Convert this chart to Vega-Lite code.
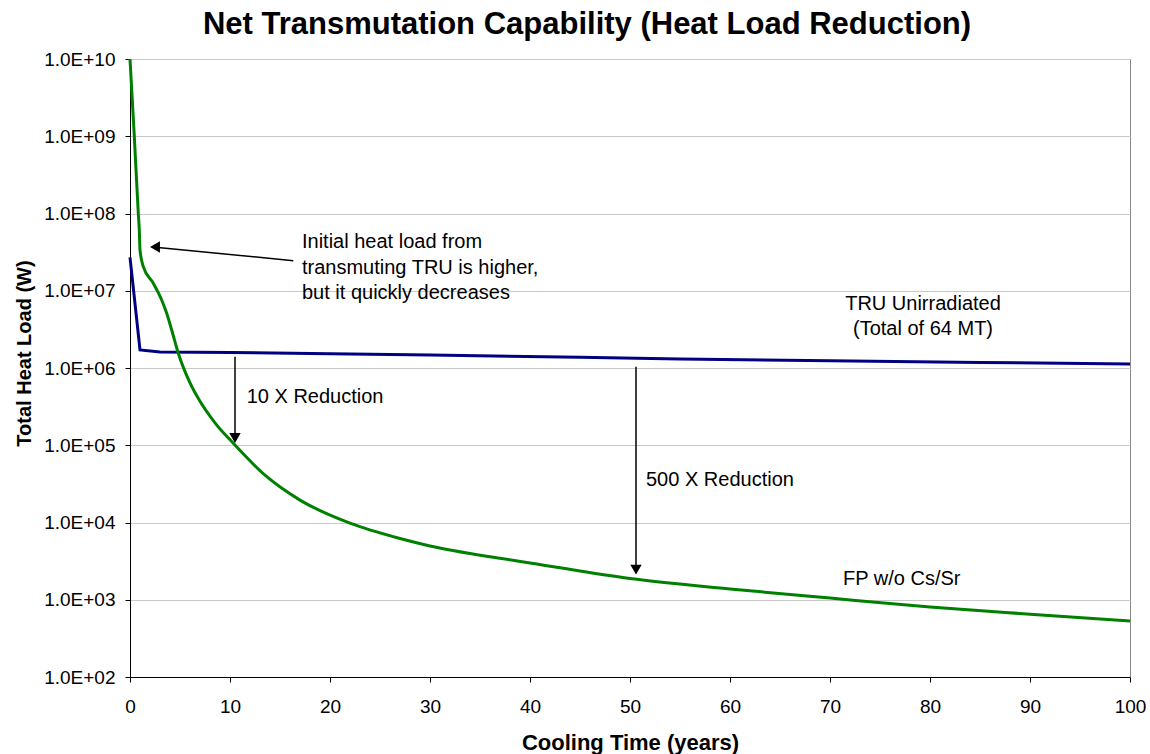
{
  "$schema": "https://vega.github.io/schema/vega-lite/v6.json",
  "width": 1000,
  "height": 618,
  "autosize": {"type": "none"},
  "padding": {"left": 130, "top": 59, "right": 20, "bottom": 77},
  "background": "white",
  "config": {
    "font": "Liberation Sans",
    "view": {"stroke": "#888888", "strokeWidth": 1},
    "axis": {"labelFont": "Liberation Sans", "titleFont": "Liberation Sans", "labelColor": "black", "titleColor": "black", "domainColor": "black", "tickColor": "black"}
  },
  "title": {
    "text": "Net Transmutation Capability (Heat Load Reduction)",
    "font": "Liberation Sans",
    "fontSize": 31,
    "fontWeight": "bold",
    "color": "black",
    "anchor": "middle",
    "frame": "group",
    "baseline": "alphabetic",
    "offset": 24,
    "dy": 39,
    "dx": -43
  },
  "datasets": {
    "tru": [
      {"t": 0, "value": 27000000},
      {"t": 1, "value": 1710000},
      {"t": 3, "value": 1610000},
      {"t": 10, "value": 1590000},
      {"t": 20, "value": 1530000},
      {"t": 30, "value": 1470000},
      {"t": 45, "value": 1380000},
      {"t": 55, "value": 1310000},
      {"t": 70, "value": 1240000},
      {"t": 85, "value": 1180000},
      {"t": 100, "value": 1130000}
    ],
    "fp": [
      {"t": 0, "value": 10000000000},
      {"t": 0.43, "value": 1000000000},
      {"t": 0.83, "value": 100000000},
      {"t": 0.93, "value": 61000000},
      {"t": 1.0, "value": 33700000},
      {"t": 1.33, "value": 20500000},
      {"t": 2.33, "value": 12500000},
      {"t": 3.17, "value": 7600000},
      {"t": 3.67, "value": 5100000},
      {"t": 4.17, "value": 3100000},
      {"t": 4.83, "value": 1550000},
      {"t": 6, "value": 640000},
      {"t": 7, "value": 370000},
      {"t": 8.5, "value": 195000},
      {"t": 10.33, "value": 106000},
      {"t": 13.5, "value": 41000},
      {"t": 17, "value": 19500},
      {"t": 22, "value": 9800},
      {"t": 27, "value": 6200},
      {"t": 30, "value": 4970},
      {"t": 37, "value": 3440},
      {"t": 40, "value": 3000},
      {"t": 50, "value": 1880},
      {"t": 60, "value": 1380},
      {"t": 70, "value": 1050},
      {"t": 80, "value": 805},
      {"t": 90, "value": 650},
      {"t": 100, "value": 530}
    ],
    "arrows": [
      {"t": 16.33, "value": 24500000, "t2": 2.8, "value2": 36300000},
      {"t": 10.5, "value": 1400000, "t2": 10.5, "value2": 130000},
      {"t": 50.6, "value": 1040000, "t2": 50.6, "value2": 2600}
    ],
    "heads": [
      {"t": 2.5, "value": 36800000, "shape": "triangle-left"},
      {"t": 10.5, "value": 124000, "shape": "triangle-down"},
      {"t": 50.6, "value": 2450, "shape": "triangle-down"}
    ],
    "labels": [
      {"t": 17.2, "value": 42800000, "text": "Initial heat load from", "align": "left"},
      {"t": 17.2, "value": 19700000, "text": "transmuting TRU is higher,", "align": "left"},
      {"t": 17.2, "value": 9350000, "text": "but it quickly decreases", "align": "left"},
      {"t": 11.67, "value": 422000, "text": "10 X Reduction", "align": "left"},
      {"t": 51.6, "value": 35500, "text": "500 X Reduction", "align": "left"},
      {"t": 79.3, "value": 6730000, "text": "TRU Unirradiated", "align": "center"},
      {"t": 79.3, "value": 3200000, "text": "(Total of 64 MT)", "align": "center"},
      {"t": 71.3, "value": 1860, "text": "FP w/o Cs/Sr", "align": "left"}
    ]
  },
  "encoding": {
    "x": {
      "field": "t",
      "type": "quantitative",
      "scale": {"domain": [0, 100], "nice": false, "zero": false},
      "axis": {
        "title": "Cooling Time (years)",
        "values": [0, 10, 20, 30, 40, 50, 60, 70, 80, 90, 100],
        "grid": false,
        "tickSize": 5,
        "labelPadding": 15,
        "labelFlush": false,
        "labelFontSize": 19,
        "titleFontSize": 22,
        "titleFontWeight": "bold",
        "titlePadding": 16
      }
    },
    "y": {
      "field": "value",
      "type": "quantitative",
      "scale": {"type": "log", "domain": [100, 10000000000], "nice": false},
      "axis": {
        "title": "Total Heat Load (W)",
        "values": [100, 1000, 10000, 100000, 1000000, 10000000, 100000000, 1000000000, 10000000000],
        "labelExpr": "'1.0E+' + (round(log(datum.value)/LN10) < 10 ? '0' : '') + round(log(datum.value)/LN10)",
        "grid": true,
        "gridColor": "#c8c8c8",
        "gridWidth": 1,
        "tickSize": 5,
        "labelPadding": 10,
        "labelFlush": false,
        "labelFontSize": 19,
        "titleFontSize": 20,
        "titleFontWeight": "bold",
        "titleX": -106,
        "titleY": 294,
        "titleAngle": 270,
        "titleAlign": "center",
        "titleBaseline": "middle"
      }
    }
  },
  "layer": [
    {
      "data": {"name": "tru"},
      "mark": {"type": "line", "color": "#000080", "strokeWidth": 3, "interpolate": "linear"},
      "encoding": {}
    },
    {
      "data": {"name": "fp"},
      "mark": {"type": "line", "color": "#008000", "strokeWidth": 3, "interpolate": "monotone"},
      "encoding": {}
    },
    {
      "data": {"name": "arrows"},
      "mark": {"type": "rule", "color": "black", "strokeWidth": 1.5},
      "encoding": {
        "x2": {"field": "t2"},
        "y2": {"field": "value2"}
      }
    },
    {
      "data": {"name": "heads"},
      "mark": {"type": "point", "filled": true, "color": "black", "opacity": 1, "size": 130},
      "encoding": {
        "shape": {"field": "shape", "type": "nominal", "scale": null}
      }
    },
    {
      "data": {"name": "labels"},
      "transform": [{"filter": "datum.align == 'left'"}],
      "mark": {"type": "text", "fontSize": 20, "font": "Liberation Sans", "color": "black", "baseline": "middle", "align": "left"},
      "encoding": {
        "text": {"field": "text"}
      }
    },
    {
      "data": {"name": "labels"},
      "transform": [{"filter": "datum.align == 'center'"}],
      "mark": {"type": "text", "fontSize": 20, "font": "Liberation Sans", "color": "black", "baseline": "middle", "align": "center"},
      "encoding": {
        "text": {"field": "text"}
      }
    }
  ]
}
